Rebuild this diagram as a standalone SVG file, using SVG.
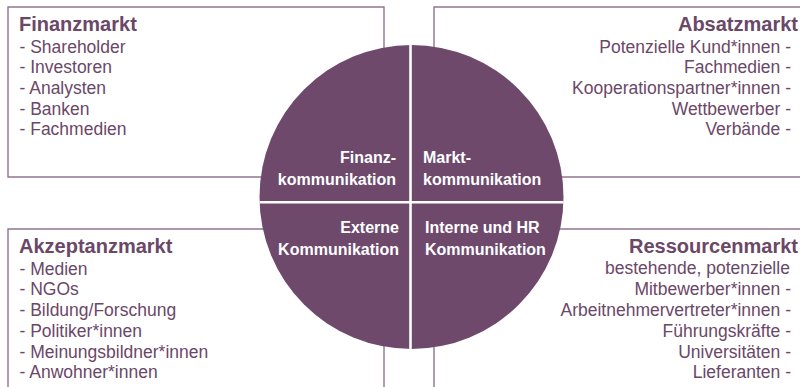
<svg xmlns="http://www.w3.org/2000/svg" width="800" height="387" viewBox="0 0 800 387">
  <style>
    .frame { fill: none; stroke: #93738f; stroke-width: 1.4; }
    .title { font-family: "Liberation Sans", Arial, sans-serif; font-weight: bold; font-size: 20px; fill: #6b4768; }
    .item { font-family: "Liberation Sans", Arial, sans-serif; font-size: 17.5px; fill: #6b4768; }
    .end { text-anchor: end; }
    .seg { font-family: "Liberation Sans", Arial, sans-serif; font-weight: bold; font-size: 16px; fill: #ffffff; }
    .divider { stroke: #ffffff; stroke-width: 2.6; }
  </style>
  <defs>
    <clipPath id="disc">
      <circle cx="411.5" cy="197" r="152"/>
    </clipPath>
  </defs>
  <rect width="800" height="387" fill="#ffffff"/>

  <!-- market frames -->
  <g id="connectors">
    <path class="frame" d="M8 7 H384 V177 H8 Z"/>
    <path class="frame" d="M805 7 H434 V177 H805"/>
    <path class="frame" d="M8 395 V229 H384 V395"/>
    <path class="frame" d="M805 229 H434 V395"/>
  </g>

  <g id="finanzmarkt">
    <text class="title" x="19" y="31">Finanzmarkt</text>
    <text class="item" x="19.5" y="52.7">- Shareholder</text>
    <text class="item" x="19.5" y="73.3">- Investoren</text>
    <text class="item" x="19.5" y="93.9">- Analysten</text>
    <text class="item" x="19.5" y="114.5">- Banken</text>
    <text class="item" x="19.5" y="135.1">- Fachmedien</text>
  </g>

  <g id="absatzmarkt">
    <text class="title end" x="798" y="31">Absatzmarkt</text>
    <text class="item end" x="791" y="52.7">Potenzielle Kund*innen -</text>
    <text class="item end" x="791" y="73.3">Fachmedien -</text>
    <text class="item end" x="791" y="93.9">Kooperationspartner*innen -</text>
    <text class="item end" x="791" y="114.5">Wettbewerber -</text>
    <text class="item end" x="791" y="135.1">Verbände -</text>
  </g>

  <g id="akzeptanzmarkt">
    <text class="title" x="19" y="253">Akzeptanzmarkt</text>
    <text class="item" x="19.5" y="274.5">- Medien</text>
    <text class="item" x="19.5" y="295.3">- NGOs</text>
    <text class="item" x="19.5" y="316.1">- Bildung/Forschung</text>
    <text class="item" x="19.5" y="336.9">- Politiker*innen</text>
    <text class="item" x="19.5" y="357.6">- Meinungsbildner*innen</text>
    <text class="item" x="19.5" y="378.3">- Anwohner*innen</text>
  </g>

  <g id="ressourcenmarkt">
    <text class="title end" x="798" y="253">Ressourcenmarkt</text>
    <text class="item" x="605" y="274">bestehende, potenzielle</text>
    <text class="item end" x="791" y="295">Mitbewerber*innen -</text>
    <text class="item end" x="791" y="315.8">Arbeitnehmervertreter*innen -</text>
    <text class="item end" x="791" y="336.7">Führungskräfte -</text>
    <text class="item end" x="791" y="357.6">Universitäten -</text>
    <text class="item end" x="791" y="378.3">Lieferanten -</text>
  </g>

  <!-- communication disc with quadrant dividers -->
  <g id="kommunikation">
    <circle cx="411.5" cy="197" r="152" fill="#6e496b"/>
    <g clip-path="url(#disc)">
      <line class="divider" x1="410.5" y1="40" x2="410.5" y2="355"/>
      <line class="divider" x1="255" y1="202.3" x2="570" y2="202.3"/>
    </g>
  </g>

  <g id="finanzkommunikation">
    <text class="seg end" x="396" y="163">Finanz-</text>
    <text class="seg end" x="396" y="184.5">kommunikation</text>
  </g>
  <g id="marktkommunikation">
    <text class="seg" x="423" y="163">Markt-</text>
    <text class="seg" x="423" y="184.5">kommunikation</text>
  </g>
  <g id="externe-kommunikation">
    <text class="seg end" x="399" y="233">Externe</text>
    <text class="seg end" x="399" y="254.5">Kommunikation</text>
  </g>
  <g id="interne-hr-kommunikation">
    <text class="seg" x="425" y="233">Interne und HR</text>
    <text class="seg" x="425" y="254.5">Kommunikation</text>
  </g>
</svg>
